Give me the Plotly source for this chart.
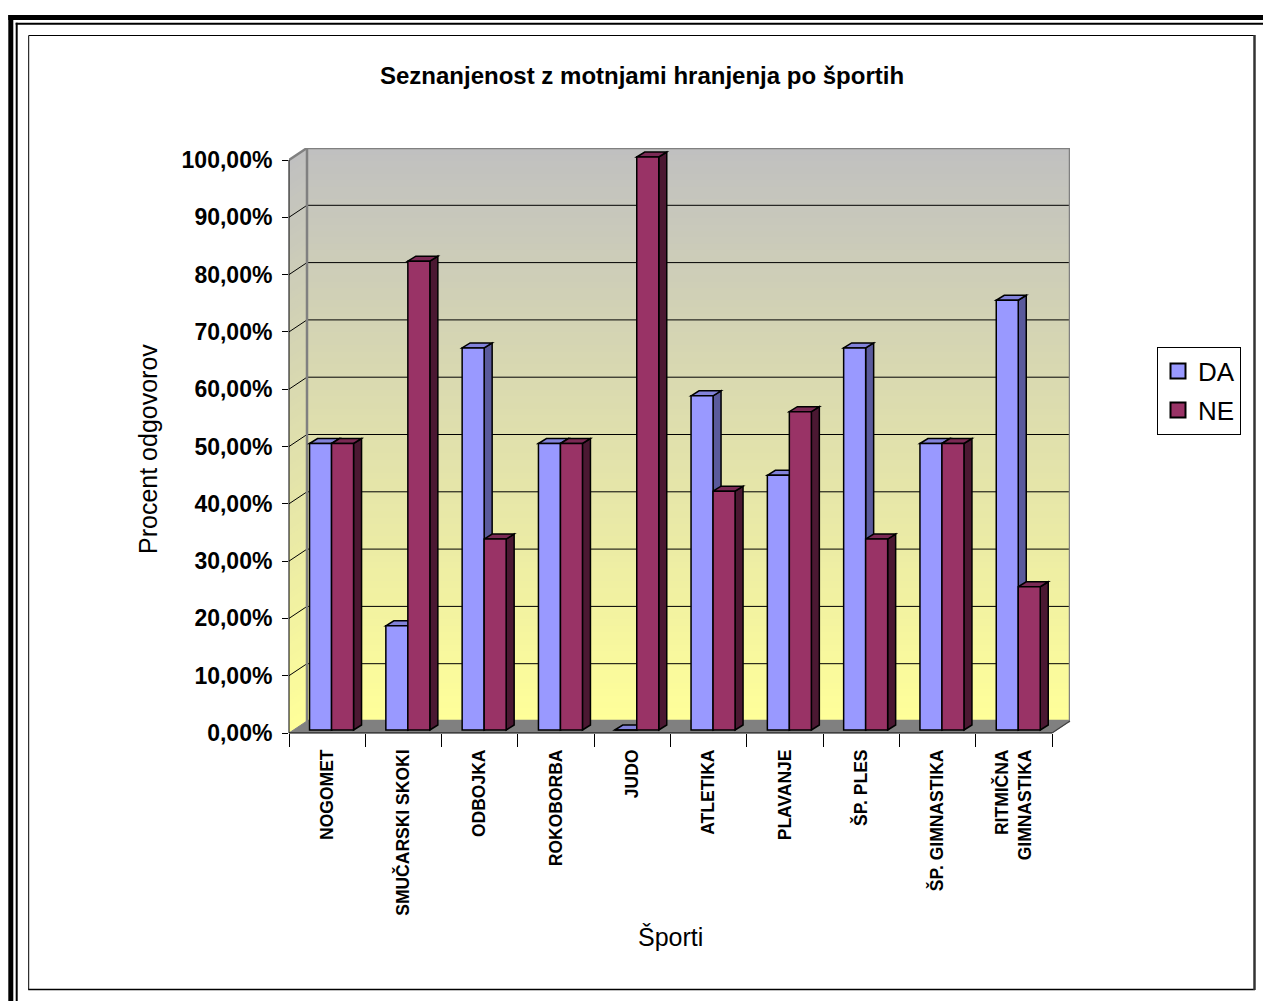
import plotly.graph_objects as go

# ---------------- data ----------------
CATEGORIES = ["NOGOMET", "SMUČARSKI SKOKI", "ODBOJKA", "ROKOBORBA", "JUDO",
              "ATLETIKA", "PLAVANJE", "ŠP. PLES", "ŠP. GIMNASTIKA",
              "RITMIČNA<br>GIMNASTIKA"]
SERIES_NAMES = ["DA", "NE"]
DA_VALUES = [50.0, 18.18, 66.67, 50.0, 0.0, 58.33, 44.44, 66.67, 50.0, 75.0]
NE_VALUES = [50.0, 81.82, 33.33, 50.0, 100.0, 41.67, 55.56, 33.33, 50.0, 25.0]
Y_TICKS = [0, 10, 20, 30, 40, 50, 60, 70, 80, 90, 100]
Y_TICK_LABELS = ["0,00%", "10,00%", "20,00%", "30,00%", "40,00%", "50,00%",
                 "60,00%", "70,00%", "80,00%", "90,00%", "100,00%"]
TITLE = "Seznanjenost z motnjami hranjenja po športih"
Y_TITLE = "Procent odgovorov"
X_TITLE = "Športi"

# ---------------- geometry / style ----------------
W, H = 1263, 1001
PL, PR, PT, PB = 289, 1070, 148, 733           # plot area in pixels
N = len(CATEGORIES)
PX_X = 76.3                                    # px per category
PX_Y = 5.73                                    # px per 1 %
WX, WY = 18 / PX_X, 12 / PX_Y                  # wall depth offset
DX, DY = 8 / PX_X, 5 / PX_Y                    # bar depth offset
BAR_W = 22 / PX_X
OFFSETS = [-17.6 / PX_X, 4.4 / PX_X]
BASE = 3 / PX_Y
X0 = -0.5
X1 = N - 0.5
YMAX = 100

FONT = "Liberation Sans, Arial, sans-serif"
FRONT = ["#9999ff", "#993366"]
TOP = ["#8282da", "#7b2a55"]
SIDE = ["#5a5a9c", "#4b1832"]
WALL_TOP = (192, 192, 192)
WALL_BOTTOM = (255, 255, 153)
GREY = "#808080"


def px(xp, yp):
    return (xp - PL) / (PR - PL), (PB - yp) / (PB - PT)


def lerp(c1, c2, t):
    return "rgb(%d,%d,%d)" % tuple(round(a + (b - a) * t) for a, b in zip(c1, c2))


shapes = []

# gradient back wall and side wall (each band reaches to the top, later bands overlay)
NS = 90
for i in range(NS):
    ya = WY + YMAX * i / NS
    col = lerp(WALL_BOTTOM, WALL_TOP, (i + 0.5) / NS)
    shapes.append(dict(type="rect", xref="x", yref="y", x0=X0 + WX, x1=X1 + WX,
                       y0=ya, y1=YMAX + WY, fillcolor=col, line_width=0,
                       layer="below"))
    sa = YMAX * i / NS
    shapes.append(dict(type="path", xref="x", yref="y",
                       path=f"M{X0},{sa} L{X0 + WX},{sa + WY} L{X0 + WX},{YMAX + WY} L{X0},{YMAX} Z",
                       fillcolor=col, line_width=0, layer="below"))

# floor
shapes.append(dict(type="path", xref="x", yref="y",
                   path=f"M{X0},0 L{X1},0 L{X1 + WX},{WY} L{X0 + WX},{WY} Z",
                   fillcolor=GREY, line=dict(color=GREY, width=1), layer="below"))

# gridlines
for v in Y_TICKS[1:-1]:
    shapes.append(dict(type="path", xref="x", yref="y",
                       path=f"M{X0},{v} L{X0 + WX},{v + WY} L{X1 + WX},{v + WY}",
                       line=dict(color="black", width=1), layer="below"))

# wall outlines
shapes.append(dict(type="rect", xref="x", yref="y", x0=X0 + WX, x1=X1 + WX,
                   y0=WY, y1=YMAX + WY, line=dict(color=GREY, width=2.5), layer="below"))
shapes.append(dict(type="path", xref="x", yref="y",
                   path=f"M{X0},{YMAX} L{X0 + WX},{YMAX + WY}",
                   line=dict(color=GREY, width=2.5), layer="below"))

# 3D faces of the bars
for s, vals in enumerate([DA_VALUES, NE_VALUES]):
    for i, v in enumerate(vals):
        xl = i + OFFSETS[s]
        xr = xl + BAR_W
        yb = BASE
        yt = BASE + v
        shapes.append(dict(type="path", xref="x", yref="y",
                           path=f"M{xr},{yb} L{xr + DX},{yb + DY} L{xr + DX},{yt + DY} L{xr},{yt} Z",
                           fillcolor=SIDE[s], line=dict(color="black", width=1.5), layer="below"))
        shapes.append(dict(type="path", xref="x", yref="y",
                           path=f"M{xl},{yt} L{xl + DX},{yt + DY} L{xr + DX},{yt + DY} L{xr},{yt} Z",
                           fillcolor=TOP[s], line=dict(color="black", width=1.5), layer="below"))

# axis lines (paper coordinates derived from data positions)
ax_top = YMAX / (YMAX + WY)
ax_right = (X1 - X0) / (X1 + WX - X0)
shapes.append(dict(type="line", xref="paper", yref="paper", x0=0, x1=0,
                   y0=0, y1=ax_top, line=dict(color="black", width=1)))
shapes.append(dict(type="line", xref="paper", yref="paper", x0=0, x1=ax_right,
                   y0=0, y1=0, line=dict(color="black", width=1.2)))
shapes.append(dict(type="line", xref="paper", yref="paper", x0=ax_right, x1=1,
                   y0=0, y1=WY / (YMAX + WY), line=dict(color="#404040", width=1.2)))

# page frame
def frame_line(xa, ya, xb, yb, width, color="black"):
    p0 = px(xa, ya)
    p1 = px(xb, yb)
    shapes.append(dict(type="line", xref="paper", yref="paper", x0=p0[0], y0=p0[1],
                       x1=p1[0], y1=p1[1], line=dict(color=color, width=width)))

frame_line(10.8, 15, 10.8, 1010, 5)
frame_line(8.3, 17.5, 1270, 17.5, 5)
frame_line(16.7, 22.7, 16.7, 1010, 2)
frame_line(15.7, 23.7, 1270, 23.7, 2)
frame_line(28.7, 35.5, 1254, 35.5, 1)
frame_line(28.7, 35.5, 28.7, 989.5, 1)
frame_line(28.2, 989.5, 1255, 989.5, 1.5)
frame_line(1254.5, 35, 1254.5, 990, 2.5, "#333333")

fig = go.Figure()
for s, vals in enumerate([DA_VALUES, NE_VALUES]):
    fig.add_trace(go.Bar(
        x=CATEGORIES, y=vals, base=[BASE] * N, width=BAR_W, offset=OFFSETS[s],
        marker=dict(color=FRONT[s], line=dict(color="black", width=1.5)),
        name=SERIES_NAMES[s], showlegend=False, hoverinfo="skip"))
    fig.add_trace(go.Scatter(
        x=[None], y=[None], mode="markers", name=SERIES_NAMES[s],
        legendgroup=SERIES_NAMES[s],
        marker=dict(symbol="square", size=15, color=FRONT[s],
                    line=dict(color="black", width=2))))

annotations = []
tx, ty = px(641.5, 75.5)
annotations.append(dict(text=f"<b>{TITLE}</b>", x=tx, y=ty, xref="paper", yref="paper",
                        showarrow=False, xanchor="center", yanchor="middle",
                        font=dict(family=FONT, size=24, color="black")))
tx, ty = px(148, 449)
annotations.append(dict(text=Y_TITLE, x=tx, y=ty, xref="paper", yref="paper",
                        showarrow=False, textangle=-90, xanchor="center", yanchor="middle",
                        font=dict(family=FONT, size=25, color="black")))
tx, ty = px(670, 937)
annotations.append(dict(text=X_TITLE, x=tx, y=ty, xref="paper", yref="paper",
                        showarrow=False, xanchor="center", yanchor="middle",
                        font=dict(family=FONT, size=25, color="black")))

lx, ly = px(1157, 346.7)
fig.update_layout(
    width=W, height=H, autosize=False,
    margin=dict(l=PL, r=W - PR, t=PT, b=H - PB, pad=0),
    paper_bgcolor="white", plot_bgcolor="rgba(0,0,0,0)",
    barmode="overlay",
    shapes=shapes, annotations=annotations,
    showlegend=True,
    legend=dict(x=lx, y=ly, xanchor="left", yanchor="top", xref="paper", yref="paper",
                bordercolor="black", borderwidth=1, bgcolor="white",
                font=dict(family=FONT, size=26, color="black"),
                traceorder="grouped", tracegroupgap=2, itemwidth=30),
    xaxis=dict(type="category", range=[X0, X1 + WX], showgrid=False, showline=False,
               zeroline=False, ticks="outside", ticklen=13, tickwidth=1, tickcolor="black",
               tickson="boundaries", tickangle=-90, ticklabelstandoff=12,
               tickfont=dict(family=FONT, size=17.5, color="black", weight="bold")),
    yaxis=dict(range=[0, YMAX + WY], showgrid=False, showline=False, zeroline=False,
               tickvals=Y_TICKS, ticktext=Y_TICK_LABELS, ticks="outside", ticklen=6,
               tickwidth=1, tickcolor="black", ticklabelstandoff=5,
               tickfont=dict(family=FONT, size=23, color="black", weight="bold")),
)

fig.write_html("out.html")
